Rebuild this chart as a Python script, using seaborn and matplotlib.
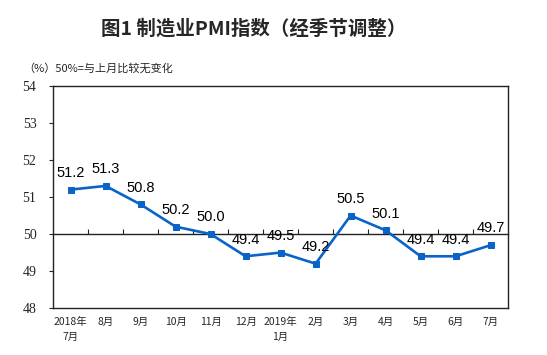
import matplotlib
matplotlib.use("Agg")
import matplotlib.pyplot as plt
import numpy as np
import pandas as pd
import seaborn as sns

# data
months = ["2018年\n7月", "8月", "9月", "10月", "11月", "12月", "2019年\n1月",
          "2月", "3月", "4月", "5月", "6月", "7月"]
pmi = [51.2, 51.3, 50.8, 50.2, 50.0, 49.4, 49.5, 49.2, 50.5, 50.1, 49.4, 49.4, 49.7]
y_ticks = [48, 49, 50, 51, 52, 53, 54]

title = "图1 制造业PMI指数（经季节调整）"
note = "（%）50%=与上月比较无变化"

sns.set_theme(style="white")
plt.rcParams["font.family"] = ["Noto Sans CJK SC", "DejaVu Sans"]

line_color = "#0A64C8"

df = pd.DataFrame({"idx": np.arange(len(months)), "pmi": pmi})

fig = plt.figure(figsize=(5.47, 3.55), dpi=100)
ax = fig.add_axes([0.097, 0.132, 0.832, 0.626])

sns.lineplot(data=df, x="idx", y="pmi", ax=ax, color=line_color,
             linewidth=1.9, marker="s", markersize=4.5,
             markeredgecolor=line_color, markerfacecolor=line_color)

for i, v in enumerate(pmi):
    ax.annotate(f"{v:.1f}", (i, v), xytext=(0, 7), textcoords="offset points",
                ha="center", va="bottom", fontsize=10.5,
                family=["Liberation Sans", "DejaVu Sans"], color="black")

ax.set_xlim(-0.5, len(months) - 0.5)
ax.set_ylim(y_ticks[0], y_ticks[-1])
ax.set_yticks(y_ticks)
ax.set_yticklabels([str(t) for t in y_ticks])
ax.set_xticks(range(len(months)))
ax.set_xticklabels(months, fontsize=7.5, linespacing=1.7)
ax.tick_params(axis="y", direction="out", length=3, width=0.8, pad=9, left=True)
ax.tick_params(axis="x", length=0, pad=6)
for lab in ax.get_yticklabels():
    lab.set_fontfamily(["Liberation Serif", "DejaVu Serif"])
    lab.set_fontsize(10)
ax.set_xlabel("")
ax.set_ylabel("")

for s in ax.spines.values():
    s.set_color("#222222")
    s.set_linewidth(1.0)

# 50 reference axis with boundary ticks pointing up
sec = ax.secondary_xaxis((50 - y_ticks[0]) / (y_ticks[-1] - y_ticks[0]))
sec.set_xticks(np.arange(len(months) - 1) + 0.5)
sec.set_xticklabels([])
sec.tick_params(direction="in", length=3.5, width=0.8, color="#222222")
sec.spines["bottom"].set_color("#222222")
sec.spines["bottom"].set_linewidth(1.0)

fig.text(0.464, 0.92, title, ha="center", va="center", fontsize=14,
         fontweight="bold")
fig.text(0.042, 0.808, note, ha="left", va="center", fontsize=8)

fig.savefig("out.png", dpi=100)
